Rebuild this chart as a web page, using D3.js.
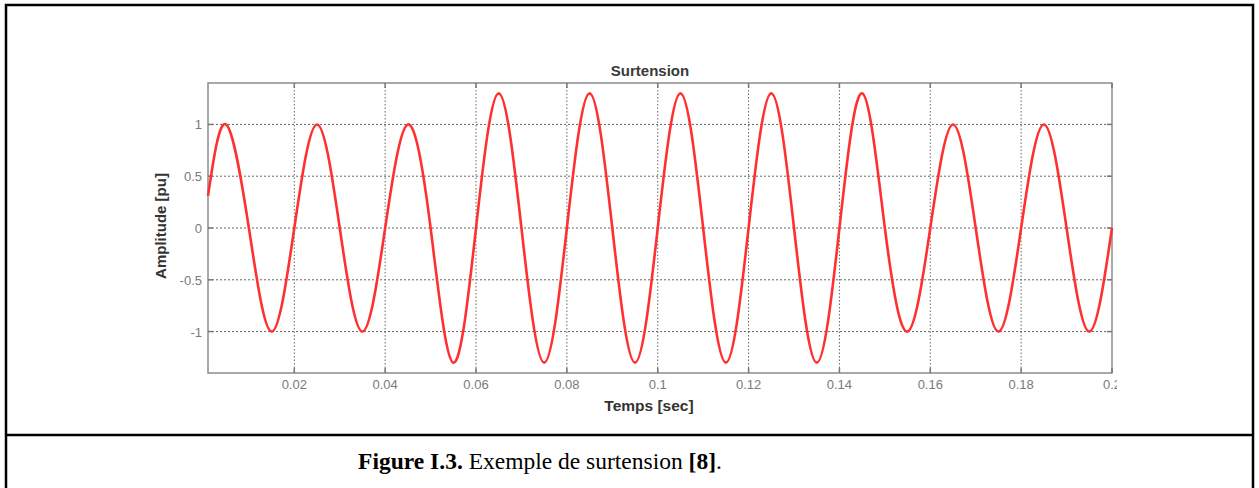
<!DOCTYPE html>
<html lang="fr">
<head>
  <meta charset="UTF-8">
  <title>Surtension</title>
  <script src="https://d3js.org/d3.v7.min.js"></script>
  <style>
    body { margin: 0; background: #fff; }
    .tick-lbl { font-family: "Liberation Sans", Arial, sans-serif; font-size: 13px; fill: #7a7a7a; }
  </style>
</head>
<body>
<div id="fig"></div>
<script>
// samples (peaks, troughs and zero crossings)
var timeSec = [0.001, 0.005, 0.010, 0.015, 0.020, 0.025, 0.030, 0.035, 0.040, 0.045,
               0.050, 0.055, 0.060, 0.065, 0.070, 0.075, 0.080, 0.085, 0.090, 0.095,
               0.100, 0.105, 0.110, 0.115, 0.120, 0.125, 0.130, 0.135, 0.140, 0.145,
               0.150, 0.155, 0.160, 0.165, 0.170, 0.175, 0.180, 0.185, 0.190, 0.195, 0.200];
var amplitudePu = [0.31, 1, 0, -1, 0, 1, 0, -1, 0, 1,
                   0, -1.3, 0, 1.3, 0, -1.3, 0, 1.3, 0, -1.3,
                   0, 1.3, 0, -1.3, 0, 1.3, 0, -1.3, 0, 1.3,
                   0, -1, 0, 1, 0, -1, 0, 1, 0, -1, 0];
var xTicks = [0.02, 0.04, 0.06, 0.08, 0.1, 0.12, 0.14, 0.16, 0.18, 0.2];
var xTickLabels = ["0.02", "0.04", "0.06", "0.08", "0.1", "0.12", "0.14", "0.16", "0.18", "0.2"];
var yTicks = [-1, -0.5, 0, 0.5, 1];
var yTickLabels = ["-1", "-0.5", "0", "0.5", "1"];

var W = 1259, H = 488;
var svg = d3.select("#fig").append("svg").attr("width", W).attr("height", H);

// outer frame of the figure table
svg.append("rect").attr("x", 6).attr("y", 5).attr("width", 1247).attr("height", 500)
  .attr("fill", "none").attr("stroke", "#000").attr("stroke-width", 2.5);
svg.append("line").attr("x1", 6).attr("x2", 1253).attr("y1", 435).attr("y2", 435)
  .attr("stroke", "#000").attr("stroke-width", 2.5);

// the picture itself is cropped just right of the axes box
svg.append("clipPath").attr("id", "imgclip").append("rect")
  .attr("x", 120).attr("y", 50).attr("width", 997).attr("height", 375);
var g = svg.append("g").attr("clip-path", "url(#imgclip)");

var pLeft = 208, pRight = 1112, pTop = 83, pBottom = 373;
var x = d3.scaleLinear().domain([0.001, 0.2]).range([pLeft, pRight]);
var y = d3.scaleLinear().domain([-1.4, 1.4]).range([pBottom, pTop]);

// grid
g.selectAll(".vg").data(xTicks.slice(0, -1)).enter().append("line")
  .attr("x1", function (d) { return x(d); }).attr("x2", function (d) { return x(d); })
  .attr("y1", pTop).attr("y2", pBottom)
  .attr("stroke", "#666").attr("stroke-width", 1).attr("stroke-dasharray", "1.5,2");
g.selectAll(".hg").data(yTicks).enter().append("line")
  .attr("x1", pLeft).attr("x2", pRight)
  .attr("y1", function (d) { return y(d); }).attr("y2", function (d) { return y(d); })
  .attr("stroke", "#666").attr("stroke-width", 1).attr("stroke-dasharray", "2,2");

// box + inward ticks on all four sides
g.append("rect").attr("x", pLeft).attr("y", pTop).attr("width", pRight - pLeft).attr("height", pBottom - pTop)
  .attr("fill", "none").attr("stroke", "#8c8c8c").attr("stroke-width", 1.5);
xTicks.forEach(function (d) {
  g.append("line").attr("x1", x(d)).attr("x2", x(d)).attr("y1", pBottom).attr("y2", pBottom - 5)
    .attr("stroke", "#777").attr("stroke-width", 1.5);
  g.append("line").attr("x1", x(d)).attr("x2", x(d)).attr("y1", pTop).attr("y2", pTop + 5)
    .attr("stroke", "#777").attr("stroke-width", 1.5);
});
yTicks.forEach(function (d) {
  g.append("line").attr("x1", pLeft).attr("x2", pLeft + 5).attr("y1", y(d)).attr("y2", y(d))
    .attr("stroke", "#777").attr("stroke-width", 1.5);
  g.append("line").attr("x1", pRight).attr("x2", pRight - 5).attr("y1", y(d)).attr("y2", y(d))
    .attr("stroke", "#777").attr("stroke-width", 1.5);
});

// tick labels
g.selectAll(".xl").data(xTicks).enter().append("text").attr("class", "tick-lbl")
  .attr("x", function (d) { return x(d); }).attr("y", 389).attr("text-anchor", "middle")
  .text(function (d, i) { return xTickLabels[i]; });
g.selectAll(".yl").data(yTicks).enter().append("text").attr("class", "tick-lbl")
  .attr("x", 202).attr("y", function (d) { return y(d) + 5; }).attr("text-anchor", "end")
  .text(function (d, i) { return yTickLabels[i]; });

// curve
var pts = timeSec.map(function (t, i) { return [t, amplitudePu[i]]; });
var line = d3.line().x(function (d) { return x(d[0]); }).y(function (d) { return y(d[1]); })
  .curve(d3.curveNatural);
g.append("path").datum(pts).attr("d", line)
  .attr("fill", "none").attr("stroke", "#ff3030").attr("stroke-width", 2.6);

// titles
g.append("text").attr("x", 650).attr("y", 76).attr("text-anchor", "middle")
  .style("font-family", "Liberation Sans, Arial, sans-serif").style("font-size", "15px")
  .style("font-weight", "bold").attr("fill", "#3a3a3a").text("Surtension");
g.append("text").attr("x", 649).attr("y", 411).attr("text-anchor", "middle")
  .style("font-family", "Liberation Sans, Arial, sans-serif").style("font-size", "15.5px")
  .style("font-weight", "bold").attr("fill", "#333").text("Temps [sec]");
g.append("text").attr("transform", "translate(166,226) rotate(-90)").attr("text-anchor", "middle")
  .style("font-family", "Liberation Sans, Arial, sans-serif").style("font-size", "15px")
  .style("font-weight", "bold").attr("fill", "#333").text("Amplitude [pu]");

// caption
var cap = svg.append("text").attr("x", 540).attr("y", 469).attr("text-anchor", "middle")
  .style("font-family", "Liberation Serif, 'Times New Roman', serif").style("font-size", "23.5px")
  .attr("fill", "#000");
cap.append("tspan").style("font-weight", "bold").text("Figure I.3.");
cap.append("tspan").text(" Exemple de surtension ");
cap.append("tspan").style("font-weight", "bold").text("[8]");
cap.append("tspan").text(".");
</script>
</body>
</html>
